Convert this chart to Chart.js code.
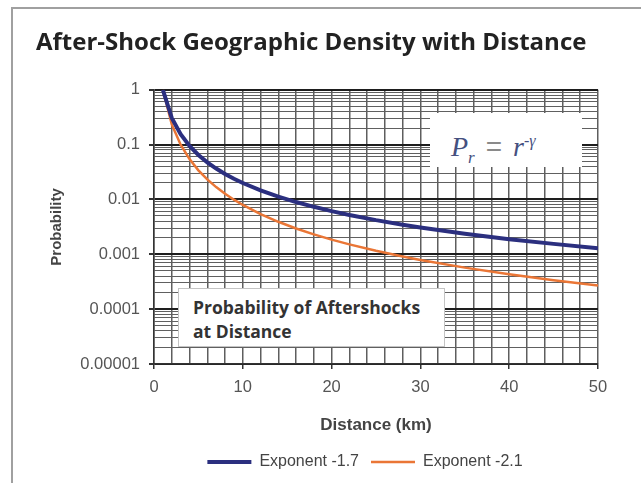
<!DOCTYPE html>
<html>
<head>
<meta charset="utf-8">
<script src="https://cdn.jsdelivr.net/npm/chart.js@4.4.1/dist/chart.umd.min.js"></script>
<style>
  html, body { margin: 0; padding: 0; background: #fff; overflow: hidden; }
  #wrap { position: relative; width: 641px; height: 483px; overflow: hidden; }
  #frame {
    position: absolute; left: 11px; top: 7px; width: 700px; height: 600px;
    border: 2px solid #a0a0a0; box-sizing: border-box;
  }
  #chart { position: absolute; left: 0; top: 0; }
  .note { position: absolute; background: #fff; box-sizing: border-box; }
  #formula {
    left: 430px; top: 113px; width: 152px; height: 54px;
    padding: 1px 0 0 21px;
    font: italic 28px "Liberation Serif", serif; color: #45507f;
    line-height: 54px; white-space: nowrap; word-spacing: 4px;
  }
  #formula .eq { color: #8a8a8a; font-style: normal; font-family: "Liberation Sans", sans-serif; }
  #formula sub { font-size: 17px; }
  #formula sup { font-size: 16px; }
  #caption {
    left: 178px; top: 288px; width: 267px; height: 59px;
    border: 1px solid #c4c4c4; padding: 6px 0 0 14px;
    font: bold 17.5px "Open Sans", sans-serif; color: #333; line-height: 24px;
  }
</style>
</head>
<body>
<div id="wrap">
  <div id="frame"></div>
  <canvas id="chart" width="641" height="483"></canvas>
  <div class="note" id="formula"><i>P</i><sub>r</sub> <span class="eq">=</span> <i>r</i><sup>-γ</sup></div>
  <div class="note" id="caption">Probability of Aftershocks<br>at Distance</div>
</div>
<script>
const titleText = "After-Shock Geographic Density with Distance";
const seriesNames = ["Exponent -1.7", "Exponent -2.1"];

// distance in km
const distance = [1, 2, 3, 4, 5, 6, 7, 8, 9, 10, 12, 14, 16, 18, 20, 22, 25, 28, 30, 35, 40, 45, 50];
const exp17 = [1, 0.3078, 0.1545, 0.0947, 0.0648, 0.0476, 0.0366, 0.0292, 0.02387, 0.01995,
  0.01464, 0.01127, 0.00898, 0.00735, 0.00614, 0.00522, 0.0042, 0.00347, 0.00308,
  0.00237, 0.00189, 0.00155, 0.00129];
const exp21 = [1, 0.2333, 0.0996, 0.0544, 0.03405, 0.02322, 0.01681, 0.01269, 0.00991, 0.00794,
  0.00542, 0.00392, 0.00296, 0.00231, 0.00185, 0.00152, 0.00116, 0.000914, 0.000791,
  0.000572, 0.000432, 0.000338, 0.00027];

const yDecades = [0.00001, 0.0001, 0.001, 0.01, 0.1, 1];
const yLabels = ["0.00001", "0.0001", "0.001", "0.01", "0.1", "1"];
const xLabelStep = 10;

const isDecade = (v) => Math.abs(Math.log10(v) - Math.round(Math.log10(v))) < 1e-6;

// legend sits under the plot area, not under the whole canvas
const legendShift = {
  id: "legendShift",
  afterLayout(chart) {
    const lg = chart.legend;
    const ca = chart.chartArea;
    const dx = (ca.left + ca.right) / 2 - (lg.left + lg.right) / 2 - 11;
    lg.left += dx;
    lg.right += dx;
  },
};

const ctx = document.getElementById("chart").getContext("2d");
new Chart(ctx, {
  type: "line",
  plugins: [legendShift],
  data: {
    datasets: [
      {
        label: seriesNames[0],
        data: distance.map((d, i) => ({ x: d, y: exp17[i] })),
        borderColor: "#2b2f7f",
        backgroundColor: "#2b2f7f",
        borderWidth: 4,
        pointRadius: 0,
        tension: 0,
        pointStyle: "line",
      },
      {
        label: seriesNames[1],
        data: distance.map((d, i) => ({ x: d, y: exp21[i] })),
        borderColor: "#ea7636",
        backgroundColor: "#ea7636",
        borderWidth: 2.5,
        pointRadius: 0,
        tension: 0,
        pointStyle: "line",
      },
    ],
  },
  options: {
    responsive: false,
    animation: false,
    layout: { padding: { left: 36, right: 43, top: 0, bottom: 3 } },
    scales: {
      x: {
        type: "linear",
        min: 0,
        max: 50,
        grid: {
          color: "#5e5e5e",
          lineWidth: 1.5,
          tickLength: 5,
          tickColor: (c) => (c.tick && c.tick.value % xLabelStep === 0 ? "#333" : "rgba(0,0,0,0)"),
        },
        border: { color: "#333", width: 1.5 },
        ticks: {
          stepSize: 2,
          autoSkip: false,
          maxRotation: 0,
          padding: 9,
          color: "#555",
          font: { family: "Liberation Sans", size: 16.5 },
          callback: (v) => (v % xLabelStep === 0 ? String(v) : ""),
        },
        title: {
          display: true,
          text: "Distance (km)",
          color: "#444",
          font: { family: "Liberation Sans", size: 17, weight: "bold" },
          padding: { top: 0, bottom: 6 },
        },
        afterFit: (s) => { s.height = 78; },
      },
      y: {
        type: "logarithmic",
        min: 0.00001,
        max: 1,
        afterBuildTicks: (s) => {
          const ticks = [];
          yDecades.forEach((d, i) => {
            ticks.push({ value: d });
            if (i < yDecades.length - 1) {
              for (let k = 2; k <= 9; k++) ticks.push({ value: d * k });
            }
          });
          s.ticks = ticks;
        },
        grid: {
          color: (c) => (c.tick && isDecade(c.tick.value) ? "#1e1e1e" : "#606060"),
          lineWidth: (c) => (c.tick && isDecade(c.tick.value) ? 2 : 1),
          tickLength: 5,
          tickColor: (c) => (c.tick && isDecade(c.tick.value) ? "#333" : "rgba(0,0,0,0)"),
        },
        border: { color: "#333", width: 1.5 },
        ticks: {
          autoSkip: false,
          padding: 9,
          color: "#555",
          font: { family: "Liberation Sans", size: 16.5 },
          callback: (v) => {
            if (!isDecade(v)) return "";
            const i = yDecades.findIndex((d) => Math.abs(d - v) / d < 1e-6);
            return i >= 0 ? yLabels[i] : "";
          },
        },
        title: {
          display: true,
          text: "Probability",
          color: "#444",
          font: { family: "Liberation Sans", size: 15, weight: "bold" },
          padding: { top: 12, bottom: 0 },
        },
        afterFit: (s) => { s.width = 118; },
      },
    },
    plugins: {
      title: {
        display: true,
        text: titleText,
        align: "start",
        color: "#222",
        font: { family: "Open Sans", size: 24, weight: "bold" },
        padding: { top: 29, bottom: 32 },
      },
      legend: {
        position: "bottom",
        labels: {
          usePointStyle: true,
          pointStyleWidth: 44,
          padding: 12,
          color: "#444",
          font: { family: "Liberation Sans", size: 16 },
        },
      },
      tooltip: { enabled: false },
    },
  },
});
</script>
</body>
</html>
